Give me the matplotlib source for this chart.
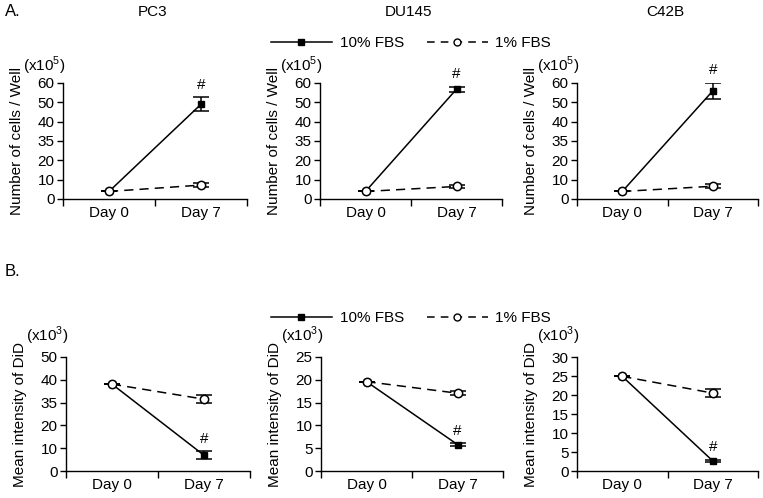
import numpy as np
import matplotlib
matplotlib.use("Agg")
import matplotlib.pyplot as plt
from matplotlib.lines import Line2D

plt.rcParams['font.family'] = ['Liberation Sans', 'DejaVu Sans']
plt.rcParams['mathtext.fontset'] = 'custom'
plt.rcParams['mathtext.rm'] = 'Liberation Sans'
plt.rcParams['font.size'] = 10

cells = ['PC3', 'DU145', 'C42B']
days = ['Day 0', 'Day 7']

# A. number of cells / well (x10^5)
a_10 = [[3.9, 49.0], [3.9, 56.8], [3.9, 55.9]]
a_10_err = [[0, 3.6], [0, 1.2], [0, 4.1]]
a_1 = [[3.9, 7.2], [3.9, 6.5], [3.9, 6.6]]
a_1_err = [[0, 0.9], [0, 0.6], [0, 1.0]]
a_ticks = [0, 10, 20, 30, 40, 50, 60]
a_ticklabels = ['0', '10', '20', '35', '40', '50', '60']

# B. mean intensity of DiD (x10^3)
b_10 = [[38.1, 6.9], [19.6, 5.8], [24.9, 2.65]]
b_10_err = [[0, 1.7], [0, 0.3], [0, 0.3]]
b_1 = [[38.1, 31.5], [19.6, 17.06], [24.9, 20.5]]
b_1_err = [[0, 1.7], [0, 0.45], [0, 1.0]]
b_ticks = [[0, 10, 20, 30, 40, 50], [0, 5, 10, 15, 20, 25], [0, 5, 10, 15, 20, 25, 30]]
b_ticklabels = [['0', '10', '20', '35', '40', '50'],
                ['0', '5', '10', '15', '20', '25'],
                ['0', '5', '10', '15', '20', '25', '30']]

W, H = 763, 498
fig = plt.figure(figsize=(W / 100, H / 100), dpi=100)

lefts_a = [63, 320, 577]
lefts_b = [66, 321, 577]
widths = [184, 182, 181]


def box(left, width, top, bottom):
    return [left / W, 1 - bottom / H, width / W, (bottom - top) / H]


def panel(ax, y10, e10, y1, e1, ticks, labels, ylabel, mult, mult_gap):
    x = np.array([0.5, 1.5])
    ax.errorbar(x, y10, yerr=e10, color='black', lw=1.1, marker='s', ms=4.5,
                mfc='black', capsize=6, capthick=1.1, elinewidth=1.1, zorder=3)
    ax.errorbar(x, y1, yerr=e1, color='black', lw=1.1, ls=(0, (6, 4)), marker='o', ms=6,
                mfc='white', mew=1.1, capsize=6, capthick=1.1, elinewidth=1.1, zorder=4)
    top = y10[1] + e10[1]
    ax.annotate('#', (1.5, top), xytext=(0, 4), textcoords='offset points',
                ha='center', va='bottom', fontsize=11)
    ax.set_xlim(0, 2)
    ax.set_ylim(0, ticks[-1])
    ax.set_yticks(ticks)
    ax.set_yticklabels(labels)
    ax.set_xticks([0, 1, 2])
    ax.set_xticklabels([])
    ax.set_xticks([0.5, 1.5], minor=True)
    ax.set_xticklabels(days, minor=True)
    ax.tick_params(axis='x', which='minor', length=0, pad=5, labelsize=11)
    ax.tick_params(axis='x', which='major', length=5, width=1)
    ax.tick_params(axis='y', length=4, width=1, pad=2, labelsize=11)
    for s in ['top', 'right']:
        ax.spines[s].set_visible(False)
    ax.spines['left'].set_linewidth(1)
    ax.spines['bottom'].set_linewidth(1)
    ax.set_ylabel(ylabel, fontsize=11, labelpad=10)
    ax.annotate(mult, (0, 1), xycoords='axes fraction', xytext=(2, mult_gap),
                textcoords='offset points', ha='right', va='bottom', fontsize=11)


for i in range(3):
    ax = fig.add_axes(box(lefts_a[i], widths[i], 83, 199))
    panel(ax, a_10[i], a_10_err[i], a_1[i], a_1_err[i], a_ticks, a_ticklabels,
          'Number of cells / Well', '(x10$^5$)', 4.5)
    fig.text((lefts_a[i] + widths[i] / 2 - 2) / W, 1 - 12 / H, cells[i],
             ha='center', va='center', fontsize=11)

    ax = fig.add_axes(box(lefts_b[i], widths[i], 357, 471))
    panel(ax, b_10[i], b_10_err[i], b_1[i], b_1_err[i], b_ticks[i], b_ticklabels[i],
          'Mean intensity of DiD', '(x10$^3$)', 7)

fig.text(5 / W, 1 - 12 / H, 'A.', ha='left', va='center', fontsize=12)
fig.text(5 / W, 1 - 272 / H, 'B.', ha='left', va='center', fontsize=12)

handles = [Line2D([], [], color='black', lw=1.1, marker='s', ms=4, mfc='black'),
           Line2D([], [], color='black', lw=1.1, ls=(0, (5, 4)), marker='o', ms=5, mfc='white')]
names = ['10% FBS', '1% FBS']
for yc in [43, 318]:
    fig.legend(handles, names, loc='center', bbox_to_anchor=(411 / W, 1 - yc / H), ncol=2,
               frameon=False, handlelength=4.0, columnspacing=1.5, handletextpad=0.5,
               fontsize=11)

fig.savefig('out.png', dpi=100)
